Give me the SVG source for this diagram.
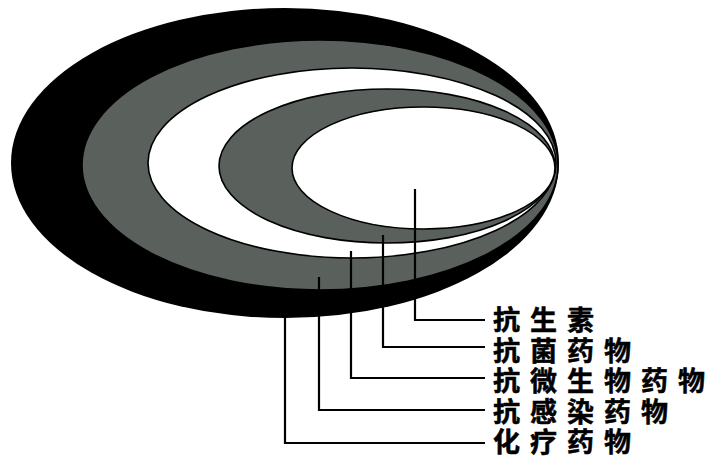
<svg xmlns="http://www.w3.org/2000/svg" width="714" height="458" viewBox="0 0 714 458">
<style>
.gray{fill:#5a605c;stroke:#000;stroke-width:1.6}
.white{fill:#fff;stroke:#000;stroke-width:1.6}
.lbl{font-family:"Liberation Sans","Noto Sans CJK SC","Noto Sans CJK TC",sans-serif;font-size:27px;font-weight:700;fill:#000;stroke:#000;stroke-width:0.5;letter-spacing:10px}
.ld{fill:none;stroke:#000;stroke-width:2.2}
</style>
<rect width="714" height="458" fill="#fff"/>
<g id="node-chemo">
<ellipse cx="285" cy="163" rx="274" ry="155" fill="#000"/>
<text class="lbl" x="493" y="452">化疗药物</text>
</g>
<g id="node-anti-infective">
<ellipse class="gray" cx="320" cy="165" rx="238" ry="125"/>
<text class="lbl" x="493" y="421.5">抗感染药物</text>
</g>
<g id="node-antimicrobial">
<ellipse class="white" cx="352" cy="163" rx="204" ry="95"/>
<text class="lbl" x="493" y="391">抗微生物药物</text>
</g>
<g id="node-antibacterial">
<ellipse class="gray" cx="387" cy="166" rx="168" ry="77"/>
<text class="lbl" x="493" y="360.5">抗菌药物</text>
</g>
<g id="node-antibiotic">
<ellipse class="white" cx="423.5" cy="168" rx="131.5" ry="61"/>
<text class="lbl" x="493" y="330">抗生素</text>
</g>
<g id="connectors">
<polyline class="ld" points="285,305 285,443 485,443"/>
<polyline class="ld" points="319,277 319,410 485,410"/>
<polyline class="ld" points="351,251 351,378 485,378"/>
<polyline class="ld" points="383,235 383,347 485,347"/>
<polyline class="ld" points="415,189 415,320 485,320"/>
</g>
</svg>
